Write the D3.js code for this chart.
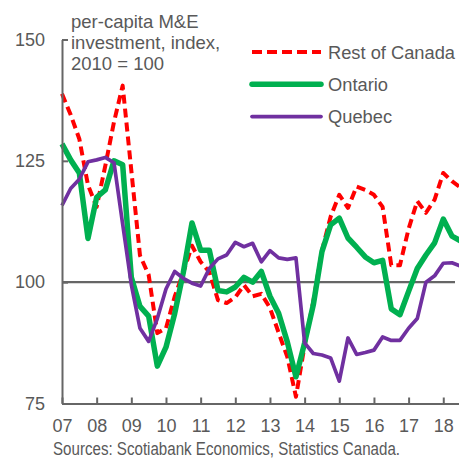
<!DOCTYPE html>
<html>
<head>
<meta charset="utf-8">
<script src="https://cdn.jsdelivr.net/npm/d3@7"></script>
<style>
  body { margin: 0; background: #fff; }
  svg { display: block; font-family: "Liberation Sans", Arial, sans-serif; }
</style>
</head>
<body>
<div id="chart"></div>
<script>
// quarterly data, 2007Q1 .. 2018Q3
var yearLabels = ["07", "08", "09", "10", "11", "12", "13", "14", "15", "16", "17", "18"];
var yTicks = [75, 100, 125, 150];

var restOfCanada = [138.8, 134.5, 129.5, 120, 115.5, 124, 133, 140.5, 123, 105.5, 101.5, 89.5,
    90.5, 97, 102, 107.5, 104.2, 102.1, 96.3, 95.7, 96.9, 99.4, 97.1, 97.6,
    94.7, 89.6, 84.6, 76.4, 87, 96, 106.5, 113.5, 118, 115.3, 119.7, 119,
    118, 115.5, 103.5, 103.5, 111, 116.7, 114.3, 117, 122.5, 120.8, 119.5];

var ontario = [128.5, 125.2, 122.5, 109, 117.5, 119, 125, 124.2, 101, 95, 93, 82.7,
    86.6, 93.5, 102, 112.2, 106.6, 106.6, 98.3, 98, 99, 101, 100, 102.2,
    97.1, 93.6, 87.7, 80.5, 87.5, 95.3, 106.3, 111.8, 113.2, 109.1, 107.2, 105.2,
    104, 104.5, 94.5, 93.3, 98.1, 102.8, 105.6, 108.1, 113, 109.5, 108.5];

var quebec = [115.8, 119.3, 121.2, 124.8, 125.2, 125.7, 124.6, 112, 99.5, 90.5, 87.8, 92.5,
    98.6, 102.2, 100.8, 99.8, 99.2, 102.8, 104.8, 105.6, 108.2, 107.3, 108, 104.2,
    106.5, 105, 104.7, 105, 87.5, 85.3, 85, 84.4, 79.6, 88.5, 85.1, 85.5,
    86, 88.7, 88, 88, 90.5, 92.5, 100, 101.3, 103.9, 104, 103.3];

var seriesNames = ["Rest of Canada", "Ontario", "Quebec"];
var titleLines = ["per-capita M&E", "investment, index,", "2010 = 100"];
var source = "Sources: Scotiabank Economics, Statistics Canada.";

var width = 459, height = 460;
var textColor = "#595959", axisColor = "#666666";

var svg = d3.select("#chart").append("svg")
    .attr("width", width)
    .attr("height", height);

// scales
var x = d3.scaleLinear().domain([0, 46]).range([62, 460.6]);
var y = d3.scaleLinear().domain([75, 150]).range([403.5, 39.5]);

// reference line at 100
svg.append("line")
    .attr("x1", x(0)).attr("x2", 455)
    .attr("y1", y(100)).attr("y2", y(100))
    .attr("stroke", axisColor)
    .attr("stroke-width", 2.2);

var line = d3.line()
    .x(function (d, i) { return x(i); })
    .y(function (d) { return y(d); });

var styles = [
    {data: restOfCanada, color: "#ff0000", w: 4, dash: "9,5"},
    {data: ontario, color: "#00b050", w: 5.5, dash: null},
    {data: quebec, color: "#7030a0", w: 3.7, dash: null}
];

styles.forEach(function (s) {
    svg.append("path")
        .datum(s.data)
        .attr("d", line)
        .attr("fill", "none")
        .attr("stroke", s.color)
        .attr("stroke-width", s.w)
        .attr("stroke-linejoin", "round")
        .attr("stroke-dasharray", s.dash);
});

// axes
var yAxis = d3.axisLeft(y)
    .tickValues(yTicks)
    .tickSizeInner(-6)
    .tickSizeOuter(0)
    .tickPadding(17);

var xAxis = d3.axisBottom(x)
    .tickValues(d3.range(0, 48, 4))
    .tickFormat(function (d) { return yearLabels[d / 4]; })
    .tickSizeInner(-6)
    .tickSizeOuter(0)
    .tickPadding(16);

var gy = svg.append("g").attr("transform", "translate(" + x(0) + ",0)").call(yAxis);
var gx = svg.append("g").attr("transform", "translate(0," + y(75) + ")").call(xAxis);

[gx, gy].forEach(function (g) {
    g.selectAll("path, line").attr("stroke", axisColor).attr("stroke-width", 2);
    g.selectAll("text")
        .attr("fill", textColor)
        .style("font-size", "18px")
        .style("font-family", "'Liberation Sans', Arial, sans-serif");
});

// title
svg.append("g").selectAll("text")
    .data(titleLines)
    .enter().append("text")
    .attr("x", 71)
    .attr("y", function (d, i) { return 28 + i * 21; })
    .attr("fill", textColor)
    .style("font-size", "18.5px")
    .text(function (d) { return d; });

// legend
var legend = svg.append("g");
seriesNames.forEach(function (name, i) {
    var ly = 52 + i * 32.3;
    legend.append("line")
        .attr("x1", 252).attr("x2", 321)
        .attr("y1", ly).attr("y2", ly)
        .attr("stroke", styles[i].color)
        .attr("stroke-width", styles[i].w)
        .attr("stroke-linecap", i === 0 ? "butt" : "round")
        .attr("stroke-dasharray", i === 0 ? "10,5" : null);
    legend.append("text")
        .attr("x", 328)
        .attr("y", ly + 6.5)
        .attr("fill", textColor)
        .style("font-size", "18.3px")
        .text(name);
});

// source
svg.append("text")
    .attr("x", 53)
    .attr("y", 455)
    .attr("fill", textColor)
    .attr("textLength", 347)
    .attr("lengthAdjust", "spacingAndGlyphs")
    .style("font-size", "17.5px")
    .text(source);
</script>
</body>
</html>
